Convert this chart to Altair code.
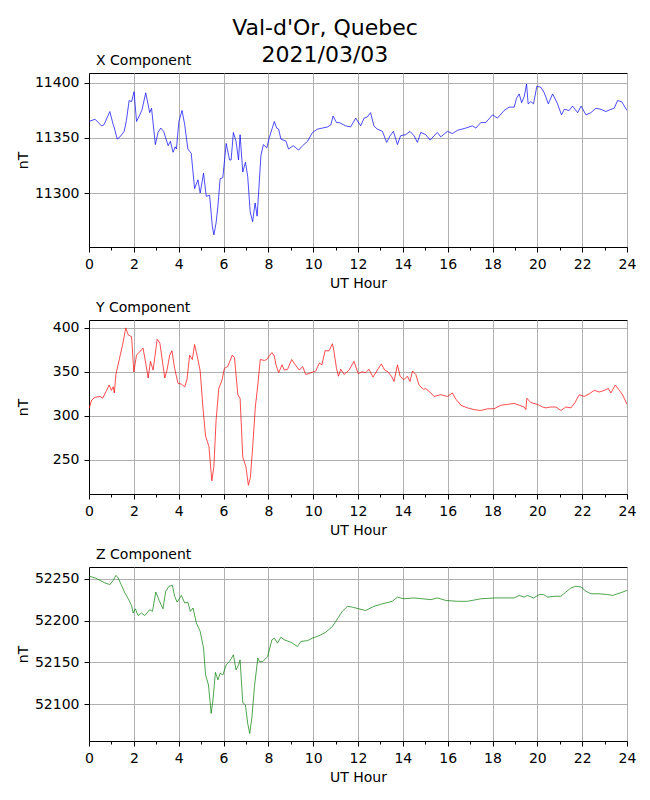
import altair as alt
import pandas as pd

FONT = "DejaVu Sans"

# X component (nT) vs UT hour
x_hours = [0.0, 0.27, 0.56, 0.67, 0.93, 1.08, 1.13, 1.26, 1.38, 1.57, 1.67, 1.79, 1.9, 2.01, 2.12, 2.27,
           2.37, 2.53, 2.71, 2.79, 2.96, 3.08, 3.2, 3.33, 3.53, 3.63, 3.75, 3.85, 3.9, 4.01, 4.15, 4.27,
           4.41, 4.56, 4.71, 4.86, 4.96, 5.11, 5.23, 5.38, 5.5, 5.57, 5.67, 5.75, 5.85, 5.97, 6.12, 6.27,
           6.34, 6.44, 6.56, 6.67, 6.74, 6.86, 6.98, 7.08, 7.19, 7.3, 7.41, 7.5, 7.67, 7.78, 7.93, 8.04,
           8.16, 8.27, 8.37, 8.46, 8.56, 8.79, 8.9, 9.11, 9.35, 9.53, 9.75, 9.97, 10.19, 10.41, 10.64,
           10.79, 10.89, 11.04, 11.16, 11.45, 11.67, 11.9, 12.12, 12.27, 12.41, 12.56, 12.71, 12.86,
           13.09, 13.28, 13.43, 13.58, 13.76, 13.9, 14.13, 14.32, 14.5, 14.65, 14.8, 15.02, 15.22, 15.39,
           15.54, 15.69, 15.99, 16.21, 16.44, 16.81, 17.1, 17.26, 17.48, 17.7, 18.0, 18.22, 18.52, 18.74,
           18.97, 19.07, 19.19, 19.3, 19.42, 19.52, 19.59, 19.71, 19.83, 19.98, 20.16, 20.31, 20.49,
           20.68, 20.88, 21.08, 21.2, 21.42, 21.57, 21.8, 21.95, 22.17, 22.39, 22.61, 22.84, 23.06,
           23.28, 23.43, 23.58, 23.76, 24.0]
x_values = [11365, 11367, 11361, 11362, 11374, 11362, 11359, 11349, 11351, 11356, 11366, 11384, 11383,
            11392, 11365, 11371, 11376, 11391, 11373, 11377, 11344, 11355, 11359, 11356, 11343, 11347,
            11337, 11342, 11340, 11365, 11375, 11362, 11340, 11336, 11304, 11312, 11300, 11318, 11297,
            11298, 11270, 11262, 11273, 11288, 11313, 11314, 11345, 11330, 11330, 11355, 11347, 11330,
            11353, 11319, 11328, 11315, 11283, 11274, 11291, 11279, 11334, 11344, 11341, 11350, 11358,
            11365, 11359, 11358, 11349, 11347, 11340, 11343, 11339, 11343, 11347, 11355, 11358, 11359,
            11360, 11362, 11370, 11364, 11364, 11361, 11360, 11368, 11361, 11368, 11369, 11373, 11361,
            11358, 11356, 11346, 11352, 11356, 11344, 11352, 11353, 11356, 11352, 11346, 11355, 11353,
            11348, 11352, 11355, 11351, 11356, 11354, 11357, 11359, 11361, 11359, 11364, 11364, 11371,
            11368, 11375, 11378, 11378, 11386, 11390, 11382, 11388, 11399, 11381, 11383, 11381, 11397,
            11396, 11391, 11381, 11390, 11382, 11371, 11376, 11375, 11379, 11373, 11379, 11371, 11373,
            11377, 11376, 11374, 11376, 11377, 11384, 11383, 11375]

# Y component (nT)
y_hours = [0.0, 0.12, 0.27, 0.49, 0.61, 0.79, 0.9, 1.0, 1.08, 1.13, 1.2, 1.35, 1.5, 1.64, 1.75, 1.9,
           2.0, 2.12, 2.27, 2.41, 2.53, 2.64, 2.74, 2.86, 3.04, 3.16, 3.38, 3.48, 3.6, 3.7, 3.82, 3.97,
           4.12, 4.27, 4.37, 4.49, 4.61, 4.71, 4.86, 4.96, 5.08, 5.2, 5.35, 5.48, 5.57, 5.67, 5.79, 5.94,
           6.04, 6.19, 6.39, 6.49, 6.64, 6.74, 6.86, 7.0, 7.11, 7.2, 7.3, 7.42, 7.53, 7.64, 7.82, 7.93,
           8.04, 8.16, 8.27, 8.34, 8.46, 8.61, 8.71, 8.86, 9.04, 9.23, 9.38, 9.53, 9.67, 9.9, 10.12,
           10.27, 10.39, 10.53, 10.71, 10.86, 10.93, 11.04, 11.13, 11.23, 11.38, 11.6, 11.82, 12.01,
           12.19, 12.34, 12.49, 12.67, 12.86, 13.04, 13.19, 13.34, 13.49, 13.61, 13.76, 13.88, 14.05,
           14.2, 14.32, 14.43, 14.58, 14.72, 14.92, 15.02, 15.25, 15.39, 15.69, 15.99, 16.21, 16.36,
           16.59, 16.88, 17.18, 17.48, 17.78, 18.07, 18.37, 18.67, 18.97, 19.19, 19.41, 19.49, 19.53,
           19.71, 20.01, 20.23, 20.38, 20.6, 20.83, 21.05, 21.27, 21.5, 21.68, 21.87, 22.09, 22.32,
           22.54, 22.76, 22.99, 23.17, 23.28, 23.48, 23.66, 23.8, 24.0]
y_values = [308, 318, 321, 322, 320, 329, 335, 329, 333, 326, 347, 364, 381, 400, 392, 390, 350, 369,
            373, 377, 360, 343, 362, 352, 387, 383, 343, 352, 369, 374, 354, 337, 336, 333, 341, 369,
            364, 381, 364, 351, 310, 277, 265, 226, 242, 295, 331, 341, 354, 356, 369, 366, 324, 320,
            253, 242, 221, 230, 264, 310, 335, 364, 363, 364, 368, 372, 368, 358, 349, 358, 352, 353,
            364, 357, 352, 356, 347, 349, 351, 360, 358, 374, 374, 382, 373, 354, 345, 353, 347, 352,
            362, 348, 350, 349, 353, 344, 352, 359, 352, 350, 345, 339, 358, 345, 341, 345, 339, 351,
            347, 335, 330, 331, 326, 322, 324, 322, 326, 319, 312, 309, 307, 306, 308, 308, 312, 313,
            314, 312, 310, 307, 320, 315, 313, 310, 309, 310, 310, 306, 310, 309, 315, 324, 322, 325,
            329, 327, 329, 331, 326, 335, 329, 324, 313]

# Z component (nT)
z_hours = [0.0, 0.27, 0.49, 0.71, 0.93, 1.08, 1.2, 1.3, 1.45, 1.6, 1.75, 1.9, 1.97, 2.07, 2.19, 2.34,
           2.49, 2.71, 2.83, 2.98, 3.13, 3.3, 3.42, 3.57, 3.72, 3.82, 3.93, 4.12, 4.27, 4.41, 4.52, 4.64,
           4.79, 4.96, 5.11, 5.2, 5.33, 5.45, 5.53, 5.64, 5.75, 5.85, 5.97, 6.12, 6.27, 6.44, 6.56, 6.67,
           6.74, 6.86, 6.98, 7.08, 7.17, 7.27, 7.38, 7.53, 7.6, 7.75, 7.97, 8.16, 8.27, 8.41, 8.56, 8.71,
           9.01, 9.3, 9.45, 9.75, 9.97, 10.27, 10.56, 10.86, 11.08, 11.3, 11.53, 11.75, 12.04, 12.34,
           12.71, 13.09, 13.53, 13.76, 14.05, 14.5, 14.87, 15.25, 15.54, 15.92, 16.44, 16.88, 17.48,
           18.07, 18.52, 18.97, 19.19, 19.41, 19.56, 19.83, 20.08, 20.28, 20.46, 20.75, 21.05, 21.27,
           21.5, 21.72, 21.95, 22.17, 22.39, 22.76, 23.14, 23.36, 23.58, 23.8, 24.0]
z_values = [52253, 52251, 52248, 52245, 52243, 52248, 52254, 52251, 52242, 52233, 52226, 52218, 52209,
            52214, 52206, 52209, 52206, 52213, 52211, 52234, 52224, 52214, 52235, 52241, 52242, 52229,
            52222, 52230, 52221, 52222, 52211, 52215, 52197, 52187, 52167, 52135, 52123, 52089, 52105,
            52138, 52129, 52137, 52135, 52147, 52151, 52159, 52141, 52147, 52153, 52102, 52099, 52077,
            52065, 52085, 52121, 52155, 52151, 52151, 52157, 52177, 52179, 52173, 52180, 52177, 52174,
            52169, 52175, 52176, 52179, 52182, 52186, 52193, 52202, 52211, 52217, 52216, 52214, 52212,
            52217, 52220, 52223, 52228, 52226, 52227, 52226, 52225, 52227, 52224, 52223, 52223, 52226,
            52227, 52227, 52227, 52230, 52228, 52230, 52227, 52231, 52231, 52228, 52229, 52229, 52234,
            52239, 52241, 52240, 52235, 52232, 52232, 52231, 52230, 52232, 52234, 52236]

hour_ticks = list(range(0, 25))
x_yticks = [11300, 11350, 11400]
y_yticks = [250, 300, 350, 400]
z_yticks = [52100, 52150, 52200, 52250]

W, H = 538, 174


def panel(hours, values, color, title, domain, yticks):
    df = pd.DataFrame({"hour": hours, "value": values})
    return alt.Chart(df).mark_line(color=color, strokeWidth=0.7, clip=True).encode(
        x=alt.X("hour:Q",
                scale=alt.Scale(domain=[0, 24], nice=False, zero=False),
                axis=alt.Axis(values=hour_ticks, format="d",
                              labelExpr="datum.value % 2 == 0 ? datum.label : ''",
                              tickSize={"condition": {"test": "datum.value % 2 == 0", "value": 5}, "value": 3},
                              gridOpacity={"condition": {"test": "datum.value % 2 == 0", "value": 1}, "value": 0},
                              labelFlush=False, labelOverlap=False,
                              title="UT Hour", titlePadding=5)),
        y=alt.Y("value:Q",
                scale=alt.Scale(domain=domain, nice=False, zero=False),
                axis=alt.Axis(values=yticks, format="d", tickSize=5, labelFlush=False,
                              labelOverlap=False, title="nT", titleX=-66, titleY=H / 2,
                              titleBaseline="middle", titleAngle=270)),
    ).properties(
        width=W, height=H,
        title=alt.TitleParams(title, anchor="start", frame="group", dx=7, offset=-6,
                              baseline="alphabetic", fontSize=14, font=FONT,
                              fontWeight="normal", color="black"),
    )


p1 = panel(x_hours, x_values, "#0000ff", "X Component", [11251, 11409], x_yticks)
p2 = panel(y_hours, y_values, "#ff0000", "Y Component", [211, 409], y_yticks)
p3 = panel(z_hours, z_values, "#008000", "Z Component", [52056, 52264], z_yticks)

chart = alt.vconcat(p1, p2, p3, spacing=9).properties(
    title=alt.TitleParams(["Val-d'Or, Quebec", "2021/03/03"], fontSize=22, font=FONT,
                          fontWeight="normal", anchor="middle", offset=-13, lineHeight=27,
                          color="black", dx=-1),
    padding={"left": 7, "top": 8, "right": 0, "bottom": 0},
).configure_view(stroke="black", strokeWidth=1).configure_axis(
    domainColor="black", tickColor="black", labelColor="black", titleColor="black",
    gridColor="#b0b0b0", gridWidth=1, labelFont=FONT, titleFont=FONT, labelFontSize=14,
    titleFontSize=14, titleFontWeight="normal", labelPadding=5, tickWidth=1, domainWidth=1,
)

chart.save("out.html", embed_options={"renderer": "svg", "actions": False})
